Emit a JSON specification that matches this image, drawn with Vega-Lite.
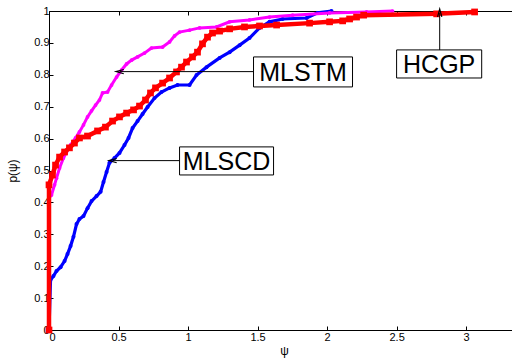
{
  "$schema": "https://vega.github.io/schema/vega-lite/v6.json",
  "width": 463,
  "height": 319,
  "autosize": "none",
  "padding": {"left": 49, "top": 11, "right": 0, "bottom": 32},
  "background": "white",
  "config": {
    "view": {"stroke": null},
    "font": "Liberation Sans",
    "axis": {"grid": false, "domainColor": "black", "tickColor": "black", "labelColor": "black", "titleColor": "black", "labelFont": "Liberation Sans", "titleFont": "Liberation Sans", "labelFontSize": 11, "titleFontSize": 12, "titleFontWeight": "normal", "domainWidth": 1, "tickWidth": 1}
  },
  "datasets": {
    "curves": [
      {"series": "HCGP", "psi": 0, "p": 0},
      {"series": "HCGP", "psi": 0, "p": 0.455},
      {"series": "HCGP", "psi": 0.025, "p": 0.486},
      {"series": "HCGP", "psi": 0.047, "p": 0.517},
      {"series": "HCGP", "psi": 0.076, "p": 0.542},
      {"series": "HCGP", "psi": 0.112, "p": 0.558},
      {"series": "HCGP", "psi": 0.147, "p": 0.571},
      {"series": "HCGP", "psi": 0.183, "p": 0.586},
      {"series": "HCGP", "psi": 0.219, "p": 0.602},
      {"series": "HCGP", "psi": 0.277, "p": 0.608},
      {"series": "HCGP", "psi": 0.349, "p": 0.624},
      {"series": "HCGP", "psi": 0.406, "p": 0.636},
      {"series": "HCGP", "psi": 0.457, "p": 0.655},
      {"series": "HCGP", "psi": 0.507, "p": 0.668},
      {"series": "HCGP", "psi": 0.558, "p": 0.68},
      {"series": "HCGP", "psi": 0.608, "p": 0.69},
      {"series": "HCGP", "psi": 0.651, "p": 0.702},
      {"series": "HCGP", "psi": 0.694, "p": 0.721},
      {"series": "HCGP", "psi": 0.73, "p": 0.743},
      {"series": "HCGP", "psi": 0.766, "p": 0.759},
      {"series": "HCGP", "psi": 0.817, "p": 0.774},
      {"series": "HCGP", "psi": 0.867, "p": 0.79},
      {"series": "HCGP", "psi": 0.917, "p": 0.809},
      {"series": "HCGP", "psi": 0.953, "p": 0.824},
      {"series": "HCGP", "psi": 0.989, "p": 0.84},
      {"series": "HCGP", "psi": 1.032, "p": 0.856},
      {"series": "HCGP", "psi": 1.068, "p": 0.871},
      {"series": "HCGP", "psi": 1.104, "p": 0.897},
      {"series": "HCGP", "psi": 1.14, "p": 0.918},
      {"series": "HCGP", "psi": 1.176, "p": 0.931},
      {"series": "HCGP", "psi": 1.227, "p": 0.937},
      {"series": "HCGP", "psi": 1.299, "p": 0.944},
      {"series": "HCGP", "psi": 1.406, "p": 0.95},
      {"series": "HCGP", "psi": 1.514, "p": 0.953},
      {"series": "HCGP", "psi": 1.637, "p": 0.956},
      {"series": "HCGP", "psi": 1.874, "p": 0.962},
      {"series": "HCGP", "psi": 2.018, "p": 0.966},
      {"series": "HCGP", "psi": 2.112, "p": 0.969},
      {"series": "HCGP", "psi": 2.162, "p": 0.975},
      {"series": "HCGP", "psi": 2.212, "p": 0.981},
      {"series": "HCGP", "psi": 2.263, "p": 0.987},
      {"series": "HCGP", "psi": 2.788, "p": 0.991},
      {"series": "HCGP", "psi": 3.061, "p": 0.997},
      {"series": "MLSTM", "psi": 0, "p": 0},
      {"series": "MLSTM", "psi": 0, "p": 0.414},
      {"series": "MLSTM", "psi": 0.018, "p": 0.423},
      {"series": "MLSTM", "psi": 0.04, "p": 0.455},
      {"series": "MLSTM", "psi": 0.054, "p": 0.476},
      {"series": "MLSTM", "psi": 0.076, "p": 0.508},
      {"series": "MLSTM", "psi": 0.104, "p": 0.539},
      {"series": "MLSTM", "psi": 0.126, "p": 0.558},
      {"series": "MLSTM", "psi": 0.155, "p": 0.58},
      {"series": "MLSTM", "psi": 0.191, "p": 0.602},
      {"series": "MLSTM", "psi": 0.219, "p": 0.621},
      {"series": "MLSTM", "psi": 0.248, "p": 0.643},
      {"series": "MLSTM", "psi": 0.277, "p": 0.668},
      {"series": "MLSTM", "psi": 0.306, "p": 0.687},
      {"series": "MLSTM", "psi": 0.335, "p": 0.705},
      {"series": "MLSTM", "psi": 0.363, "p": 0.721},
      {"series": "MLSTM", "psi": 0.385, "p": 0.743},
      {"series": "MLSTM", "psi": 0.421, "p": 0.746},
      {"series": "MLSTM", "psi": 0.45, "p": 0.768},
      {"series": "MLSTM", "psi": 0.486, "p": 0.793},
      {"series": "MLSTM", "psi": 0.522, "p": 0.815},
      {"series": "MLSTM", "psi": 0.558, "p": 0.834},
      {"series": "MLSTM", "psi": 0.594, "p": 0.846},
      {"series": "MLSTM", "psi": 0.637, "p": 0.856},
      {"series": "MLSTM", "psi": 0.687, "p": 0.868},
      {"series": "MLSTM", "psi": 0.737, "p": 0.884},
      {"series": "MLSTM", "psi": 0.817, "p": 0.887},
      {"series": "MLSTM", "psi": 0.867, "p": 0.903},
      {"series": "MLSTM", "psi": 0.903, "p": 0.922},
      {"series": "MLSTM", "psi": 0.939, "p": 0.934},
      {"series": "MLSTM", "psi": 1.011, "p": 0.94},
      {"series": "MLSTM", "psi": 1.083, "p": 0.947},
      {"series": "MLSTM", "psi": 1.205, "p": 0.95},
      {"series": "MLSTM", "psi": 1.299, "p": 0.966},
      {"series": "MLSTM", "psi": 1.442, "p": 0.972},
      {"series": "MLSTM", "psi": 1.586, "p": 0.981},
      {"series": "MLSTM", "psi": 1.752, "p": 0.987},
      {"series": "MLSTM", "psi": 2.018, "p": 0.994},
      {"series": "MLSTM", "psi": 2.284, "p": 0.997},
      {"series": "MLSTM", "psi": 2.471, "p": 1.0},
      {"series": "MLSCD", "psi": 0, "p": 0},
      {"series": "MLSCD", "psi": 0.011, "p": 0.157},
      {"series": "MLSCD", "psi": 0.032, "p": 0.169},
      {"series": "MLSCD", "psi": 0.054, "p": 0.185},
      {"series": "MLSCD", "psi": 0.083, "p": 0.197},
      {"series": "MLSCD", "psi": 0.112, "p": 0.216},
      {"series": "MLSCD", "psi": 0.133, "p": 0.238},
      {"series": "MLSCD", "psi": 0.155, "p": 0.263},
      {"series": "MLSCD", "psi": 0.176, "p": 0.292},
      {"series": "MLSCD", "psi": 0.198, "p": 0.332},
      {"series": "MLSCD", "psi": 0.219, "p": 0.348},
      {"series": "MLSCD", "psi": 0.248, "p": 0.357},
      {"series": "MLSCD", "psi": 0.277, "p": 0.382},
      {"series": "MLSCD", "psi": 0.306, "p": 0.404},
      {"series": "MLSCD", "psi": 0.342, "p": 0.42},
      {"series": "MLSCD", "psi": 0.371, "p": 0.433},
      {"series": "MLSCD", "psi": 0.392, "p": 0.464},
      {"series": "MLSCD", "psi": 0.414, "p": 0.495},
      {"series": "MLSCD", "psi": 0.435, "p": 0.524},
      {"series": "MLSCD", "psi": 0.471, "p": 0.539},
      {"series": "MLSCD", "psi": 0.507, "p": 0.555},
      {"series": "MLSCD", "psi": 0.543, "p": 0.58},
      {"series": "MLSCD", "psi": 0.572, "p": 0.602},
      {"series": "MLSCD", "psi": 0.601, "p": 0.633},
      {"series": "MLSCD", "psi": 0.637, "p": 0.655},
      {"series": "MLSCD", "psi": 0.673, "p": 0.677},
      {"series": "MLSCD", "psi": 0.709, "p": 0.699},
      {"series": "MLSCD", "psi": 0.759, "p": 0.727},
      {"series": "MLSCD", "psi": 0.809, "p": 0.746},
      {"series": "MLSCD", "psi": 0.867, "p": 0.759},
      {"series": "MLSCD", "psi": 0.924, "p": 0.768},
      {"series": "MLSCD", "psi": 1.011, "p": 0.768},
      {"series": "MLSCD", "psi": 1.061, "p": 0.799},
      {"series": "MLSCD", "psi": 1.133, "p": 0.824},
      {"series": "MLSCD", "psi": 1.227, "p": 0.853},
      {"series": "MLSCD", "psi": 1.299, "p": 0.871},
      {"series": "MLSCD", "psi": 1.371, "p": 0.893},
      {"series": "MLSCD", "psi": 1.442, "p": 0.915},
      {"series": "MLSCD", "psi": 1.514, "p": 0.947},
      {"series": "MLSCD", "psi": 1.586, "p": 0.966},
      {"series": "MLSCD", "psi": 1.68, "p": 0.975},
      {"series": "MLSCD", "psi": 1.853, "p": 0.978},
      {"series": "MLSCD", "psi": 1.932, "p": 0.994},
      {"series": "MLSCD", "psi": 2.032, "p": 1.0}
    ],
    "boxes": [
      {"label": "MLSTM", "x1": 1.471, "x2": 2.183, "y1": 0.762, "y2": 0.856, "xc": 1.827, "yc": 0.809},
      {"label": "MLSCD", "x1": 0.939, "x2": 1.615, "y1": 0.486, "y2": 0.574, "xc": 1.277, "yc": 0.53},
      {"label": "HCGP", "x1": 2.5, "x2": 3.112, "y1": 0.79, "y2": 0.878, "xc": 2.806, "yc": 0.834}
    ],
    "arrows": [
      {"label": "MLSTM", "dir": "left", "xt": 1.471, "yt": 0.81, "xh": 0.51, "yh": 0.81},
      {"label": "MLSCD", "dir": "left", "xt": 0.939, "yt": 0.531, "xh": 0.459, "yh": 0.531},
      {"label": "HCGP", "dir": "up", "xt": 2.81, "yt": 0.878, "xh": 2.81, "yh": 0.994}
    ]
  },
  "resolve": {"axis": {"x": "independent", "y": "independent"}},
  "layer": [
    {
      "data": {"name": "curves"},
      "transform": [{"filter": "datum.series === 'MLSCD'"}],
      "mark": {"type": "line", "color": "#0000ff", "strokeWidth": 3.2, "point": {"filled": true, "color": "#0000ff", "size": 16}},
      "encoding": {
        "x": {"field": "psi", "type": "quantitative", "scale": {"domain": [0, 3.33], "nice": false, "zero": false},
          "axis": {"orient": "bottom", "title": "ψ", "values": [0, 0.5, 1, 1.5, 2, 2.5, 3], "format": "~g", "tickSize": -4, "labelPadding": 5, "titlePadding": 3, "titleX": 235, "labelOverlap": false}},
        "y": {"field": "p", "type": "quantitative", "scale": {"domain": [0, 1], "nice": false},
          "axis": {"orient": "left", "title": "p(ψ)", "values": [0, 0.1, 0.2, 0.3, 0.4, 0.5, 0.6, 0.7, 0.8, 0.9, 1], "format": "~g", "tickSize": -4, "labelPadding": 4, "titlePadding": 14, "labelOverlap": false}},
        "order": {"field": "psi"}
      }
    },
    {
      "data": {"name": "curves"},
      "transform": [{"filter": "datum.series === 'MLSTM'"}],
      "mark": {"type": "line", "color": "#ff00ff", "strokeWidth": 3, "point": {"filled": true, "color": "#ff00ff", "size": 14}},
      "encoding": {
        "x": {"field": "psi", "type": "quantitative", "axis": null},
        "y": {"field": "p", "type": "quantitative", "axis": null},
        "order": {"field": "psi"}
      }
    },
    {
      "data": {"name": "curves"},
      "transform": [{"filter": "datum.series === 'HCGP'"}],
      "mark": {"type": "line", "color": "#ff0000", "strokeWidth": 4.5, "point": {"filled": true, "color": "#ff0000", "shape": "square", "size": 45}},
      "encoding": {
        "x": {"field": "psi", "type": "quantitative", "axis": null},
        "y": {"field": "p", "type": "quantitative", "axis": null},
        "order": {"field": "psi"}
      }
    },
    {
      "data": {"name": "arrows"},
      "mark": {"type": "rule", "color": "black", "strokeWidth": 1},
      "encoding": {
        "x": {"field": "xt", "type": "quantitative",
          "axis": {"orient": "top", "title": null, "labels": false, "values": [0, 0.5, 1, 1.5, 2, 2.5, 3], "tickSize": -4, "domain": true}},
        "x2": {"field": "xh"},
        "y": {"field": "yt", "type": "quantitative", "axis": null},
        "y2": {"field": "yh"}
      }
    },
    {
      "data": {"name": "arrows"},
      "transform": [{"filter": "datum.dir === 'left'"}],
      "mark": {"type": "point", "shape": "M 1 -0.55 L -1 0 L 1 0.55", "filled": false, "color": "black", "strokeWidth": 1.2, "size": 60, "opacity": 1},
      "encoding": {
        "x": {"field": "xh", "type": "quantitative", "axis": null},
        "y": {"field": "yh", "type": "quantitative", "axis": null}
      }
    },
    {
      "data": {"name": "arrows"},
      "transform": [{"filter": "datum.dir === 'up'"}],
      "mark": {"type": "point", "shape": "M -0.55 1 L 0 -1 L 0.55 1", "filled": false, "color": "black", "strokeWidth": 1.2, "size": 60, "opacity": 1},
      "encoding": {
        "x": {"field": "xh", "type": "quantitative", "axis": null},
        "y": {"field": "yh", "type": "quantitative", "axis": null}
      }
    },
    {
      "data": {"name": "boxes"},
      "mark": {"type": "rect", "fill": "white", "stroke": "black", "strokeWidth": 1},
      "encoding": {
        "x": {"field": "x1", "type": "quantitative", "axis": null},
        "x2": {"field": "x2"},
        "y": {"field": "y1", "type": "quantitative", "axis": null},
        "y2": {"field": "y2"}
      }
    },
    {
      "data": {"name": "boxes"},
      "mark": {"type": "text", "font": "Liberation Sans", "fontSize": 25, "color": "black", "align": "center", "baseline": "middle", "dy": 1},
      "encoding": {
        "x": {"field": "xc", "type": "quantitative", "axis": null},
        "y": {"field": "yc", "type": "quantitative", "axis": null},
        "text": {"field": "label"}
      }
    }
  ]
}
